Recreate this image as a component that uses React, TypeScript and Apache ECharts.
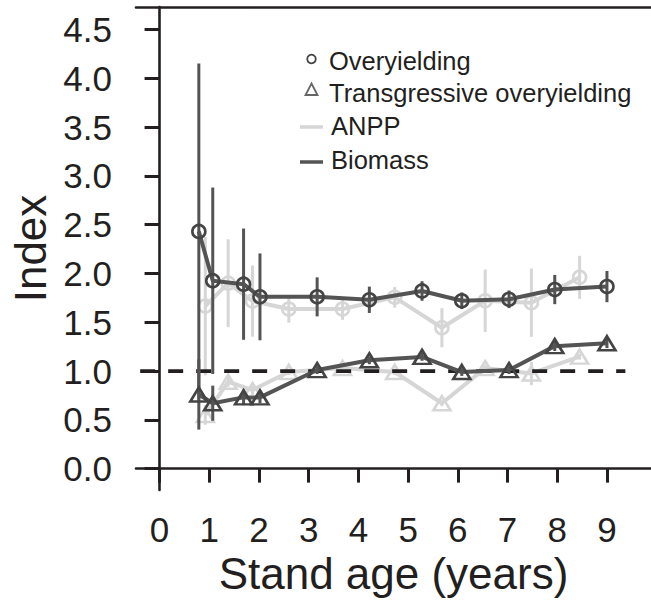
import React, { useEffect, useRef } from "react";
import * as echarts from "echarts";

// Stand age (years) of each sampling, Biomass series and ANPP series (dodged)
const biomassAge = [0.79, 1.07, 1.69, 2.02, 3.17, 4.22, 5.28, 6.08, 7.03, 7.95, 9.0];
const biomassOver = [2.43, 1.925, 1.89, 1.76, 1.76, 1.73, 1.82, 1.72, 1.735, 1.835, 1.865];
const biomassOverErr = [1.72, 0.955, 0.57, 0.445, 0.2, 0.135, 0.1, 0.085, 0.09, 0.15, 0.16];
const biomassTrans = [0.76, 0.67, 0.73, 0.73, 1.01, 1.11, 1.145, 0.99, 1.01, 1.255, 1.285];
const biomassTransErr = [0.36, 0.18, 0.08, 0.06, 0.04, 0.04, 0.04, 0.04, 0.04, 0.05, 0.05];

const anppAge = [0.92, 1.38, 1.87, 2.6, 3.68, 4.73, 5.68, 6.55, 7.48, 8.45];
const anppOver = [1.666, 1.9, 1.717, 1.635, 1.635, 1.755, 1.444, 1.72, 1.7, 1.96];
const anppOverErr = [0.71, 0.45, 0.365, 0.14, 0.11, 0.105, 0.2, 0.32, 0.35, 0.22];
const anppTrans = [0.55, 0.89, 0.805, 0.99, 1.03, 0.99, 0.67, 1.03, 0.975, 1.147];
const anppTransErr = [0.1, 0.05, 0.05, 0.03, 0.03, 0.03, 0.03, 0.03, 0.12, 0.03];

const xTicks = [0, 1, 2, 3, 4, 5, 6, 7, 8, 9];
const yTicks = [0, 0.5, 1, 1.5, 2, 2.5, 3, 3.5, 4, 4.5];
const refLineX = [-0.39, 9.37];
const refLineY = 1.0;

const legendItems = ["Overyielding", "Transgressive overyielding", "ANPP", "Biomass"];

const DARK = "#545454";
const DARK_MARK = "#444444";
const LIGHT = "#d6d6d6";
const INK = "#231f20";
const FONT = "'Liberation Sans', Arial, Helvetica, sans-serif";

function pairs(xs: number[], ys: number[]) {
  return xs.map((x, i) => [x, ys[i]]);
}
function bars(xs: number[], ys: number[], es: number[]) {
  return xs.map((x, i) => [x, ys[i] - es[i], ys[i] + es[i]]);
}

function errorSeries(data: number[][], color: string, width: number, z: number) {
  return {
    type: "custom",
    z,
    silent: true,
    encode: { x: 0, y: [1, 2] },
    data,
    renderItem: (_p: any, api: any) => {
      const a = api.coord([api.value(0), api.value(1)]);
      const b = api.coord([api.value(0), api.value(2)]);
      return {
        type: "line",
        shape: { x1: a[0], y1: a[1], x2: b[0], y2: b[1] },
        style: { stroke: color, lineWidth: width },
      };
    },
  };
}

function lineSeries(data: number[][], color: string, markColor: string, symbol: string, size: any, z: number) {
  return {
    type: "line",
    z,
    data,
    symbol,
    symbolSize: size,
    showAllSymbol: true,
    lineStyle: { color, width: 4 },
    itemStyle: { color: "none", borderColor: markColor, borderWidth: 2.6 },
    emphasis: { disabled: true },
  };
}

export default function App() {
  const ref = useRef<HTMLDivElement>(null);
  useEffect(() => {
    const chart = echarts.init(ref.current!, null, { renderer: "svg" });
    const axisLine = { show: true, lineStyle: { color: INK, width: 2.6 } };
    const option: any = {
      animation: false,
      backgroundColor: "#ffffff",
      grid: { left: 133, right: 0, top: 7, bottom: 111, containLabel: false },
      xAxis: [
        {
          type: "value",
          min: -0.474,
          max: 9.886,
          position: "bottom",
          name: "Stand age (years)",
          nameLocation: "middle",
          nameGap: 52,
          nameTextStyle: { fontSize: 44, color: INK, fontFamily: FONT },
          axisLine,
          axisTick: { show: true, length: 14, lineStyle: { color: INK, width: 3 }, customValues: xTicks },
          axisLabel: {
            show: true,
            margin: 22,
            fontSize: 35,
            color: INK,
            fontFamily: FONT,
            customValues: xTicks,
            formatter: (v: number) => String(v),
          },
          splitLine: { show: false },
        },
        {
          type: "value",
          min: -0.474,
          max: 9.886,
          position: "top",
          axisLine,
          axisTick: { show: false },
          axisLabel: { show: false },
          splitLine: { show: false },
        },
      ],
      yAxis: {
        type: "value",
        min: -0.219,
        max: 4.73,
        name: "Index",
        nameLocation: "middle",
        nameGap: 84,
        nameTextStyle: { fontSize: 44, color: INK, fontFamily: FONT },
        axisLine,
        axisTick: { show: true, length: 15, lineStyle: { color: INK, width: 3 }, customValues: yTicks },
        axisLabel: {
          show: true,
          margin: 24,
          fontSize: 35,
          color: INK,
          fontFamily: FONT,
          customValues: yTicks,
          formatter: (v: number) => v.toFixed(1),
        },
        splitLine: { show: false },
      },
      graphic: [
        { type: "circle", shape: { cx: 311.5, cy: 59, r: 4.3 }, style: { fill: "none", stroke: DARK_MARK, lineWidth: 1.8 } },
        { type: "polygon", shape: { points: [[311.5, 83.5], [317.5, 95], [305.5, 95]] }, style: { fill: "none", stroke: "#666", lineWidth: 1.8 } },
        { type: "line", shape: { x1: 300, y1: 127, x2: 323, y2: 127 }, style: { stroke: LIGHT, lineWidth: 3.5 } },
        { type: "line", shape: { x1: 300, y1: 162, x2: 323, y2: 162 }, style: { stroke: DARK, lineWidth: 3.5 } },
        ...legendItems.map((t, i) => ({
          type: "text",
          x: i < 2 ? 329 : 331,
          y: [61, 93, 126, 160][i],
          style: { text: t, fontSize: 25.5, fontFamily: FONT, fill: INK, verticalAlign: "middle", align: "left" },
        })),
      ],
      series: [
        errorSeries(bars(anppAge, anppOver, anppOverErr), LIGHT, 3, 1),
        errorSeries(bars(anppAge, anppTrans, anppTransErr), LIGHT, 3, 1),
        lineSeries(pairs(anppAge, anppOver), LIGHT, LIGHT, "circle", 13, 2),
        lineSeries(pairs(anppAge, anppTrans), LIGHT, LIGHT, "triangle", [17, 14], 2),
        {
          type: "line",
          z: 3,
          data: refLineX.map((x) => [x, refLineY]),
          symbol: "none",
          lineStyle: { color: INK, width: 3.8, type: [15, 13] },
          silent: true,
        },
        errorSeries(bars(biomassAge, biomassOver, biomassOverErr), DARK, 3, 4),
        errorSeries(bars(biomassAge, biomassTrans, biomassTransErr), DARK, 3, 4),
        lineSeries(pairs(biomassAge, biomassOver), DARK, DARK_MARK, "circle", 13, 5),
        lineSeries(pairs(biomassAge, biomassTrans), DARK, DARK_MARK, "triangle", [17, 14], 5),
      ],
    };
    chart.setOption(option);
    return () => chart.dispose();
  }, []);
  return (
    <div
      ref={ref}
      style={{ position: "fixed", left: 0, top: 0, width: 651, height: 601, background: "#fff" }}
    />
  );
}
